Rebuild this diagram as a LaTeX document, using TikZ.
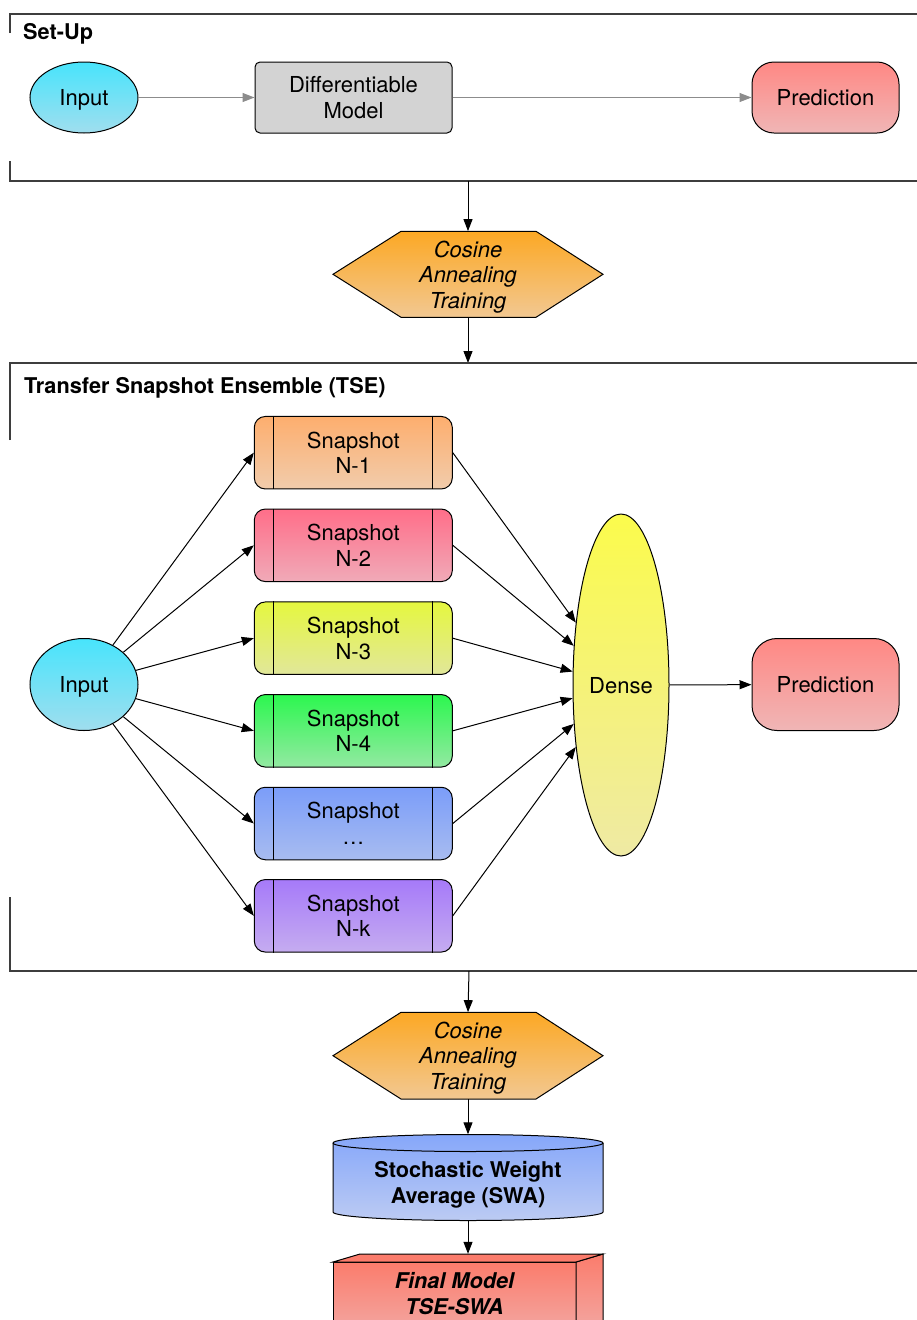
\documentclass[tikz,border=0pt]{standalone}
\usepackage{fontspec}
\setmainfont{TeX Gyre Heros}
\usetikzlibrary{arrows.meta,shapes.geometric}

\newcommand\diagfont{\fontsize{22}{25.5}\selectfont}
\newcommand\titlefont{\fontsize{21.7}{25.5}\selectfont\bfseries}

% fills (top / bottom of each gradient)
\definecolor{framegray}{RGB}{62,62,62}
\definecolor{arrowgray}{RGB}{140,140,140}
\definecolor{inputtop}{RGB}{72,228,252}
\definecolor{inputbot}{RGB}{160,222,238}
\definecolor{modelfill}{RGB}{211,211,211}
\definecolor{predtop}{RGB}{255,136,132}
\definecolor{predbot}{RGB}{240,182,182}
\definecolor{hextop}{RGB}{252,168,36}
\definecolor{hexbot}{RGB}{242,200,146}
\definecolor{nonetop}{RGB}{253,174,110}
\definecolor{nonebot}{RGB}{241,204,172}
\definecolor{ntwotop}{RGB}{255,110,137}
\definecolor{ntwobot}{RGB}{240,170,184}
\definecolor{nthreetop}{RGB}{229,247,63}
\definecolor{nthreebot}{RGB}{225,231,154}
\definecolor{nfourtop}{RGB}{44,247,79}
\definecolor{nfourbot}{RGB}{147,233,162}
\definecolor{ndotstop}{RGB}{123,157,249}
\definecolor{ndotsbot}{RGB}{168,188,240}
\definecolor{nktop}{RGB}{166,122,249}
\definecolor{nkbot}{RGB}{197,172,240}
\definecolor{densetop}{RGB}{251,251,76}
\definecolor{densebot}{RGB}{239,234,164}
\definecolor{swatop}{RGB}{134,167,250}
\definecolor{swabot}{RGB}{188,203,243}
\definecolor{finaltop}{RGB}{251,124,108}
\definecolor{finalbot}{RGB}{242,172,168}

\tikzset{
  frameline/.style={draw=framegray, line width=1.6pt},
  outline/.style={draw=black, line width=1pt},
  flow/.style={draw=black, line width=1pt, -{Triangle[length=12pt,width=9pt]}},
  grayflow/.style={draw=arrowgray, line width=1.1pt, -{Triangle[length=12pt,width=9pt]}},
  oval/.style={ellipse, outline, minimum width=108pt, top color=inputtop, bottom color=inputbot},
  snapbox/.style 2 args={outline, rounded corners=11pt, minimum width=198pt,
    minimum height=72.5pt, top color=#1, bottom color=#2},
  predbox/.style={outline, minimum width=147pt, top color=predtop, bottom color=predbot},
  hexslot/.style={minimum width=270pt, minimum height=87pt, font=\diagfont\itshape},
}

\begin{document}
\begin{tikzpicture}[x=1pt, y=-1pt,
  every node/.style={font=\diagfont, align=center, inner sep=0pt, text depth=0pt}]
\useasboundingbox (0,0) rectangle (917,1320);
\clip (0,0) rectangle (917,1320);

% ---------------- Set-Up lane ----------------
\draw[frameline] (10,33) -- (10,14) -- (917,14);
\draw[frameline] (10,161) -- (10,181) -- (917,181);
\node[anchor=base west, font=\titlefont] (setuptitle) at (23,39) {Set-Up};

\node[oval, minimum height=71pt] (in1) at (84,97.5) {Input};
\node[outline, rounded corners=5pt, minimum width=197pt, minimum height=71pt,
      fill=modelfill] (model) at (353.5,97.5) {Differentiable\\Model};
\node[predbox, rounded corners=22pt, minimum height=71pt] (pred1) at (825.5,97.5) {Prediction};

\draw[grayflow] (in1) -- (model);
\draw[grayflow] (model) -- (pred1);

\coordinate (setupout) at (468,181);

% ---------------- first cosine annealing step ----------------
\shade[outline, top color=hextop, bottom color=hexbot]
  (333,274.3) -- (401,231.3) -- (536,231.3) -- (603,274.3) -- (536,317.3) -- (401,317.3) -- cycle;
\node[hexslot, minimum height=86pt] (hexA) at (468,274.3) {Cosine\\Annealing\\Training};

\coordinate (tsein) at (468,363);
\draw[flow] (setupout) -- (hexA.north);
\draw[flow] (hexA.south) -- (tsein);

% ---------------- TSE lane ----------------
\draw[frameline] (10,440) -- (10,363) -- (917,363);
\draw[frameline] (10,897) -- (10,971) -- (917,971);
\node[anchor=base west, font=\titlefont] (tsetitle) at (24,393)
  {Transfer Snapshot Ensemble (TSE)};

\node[oval, minimum height=92pt] (in2) at (84,684.5) {Input};

\foreach \i/\y/\lab/\ct/\cb in {
    1/452.7/N-1/nonetop/nonebot,
    2/545.3/N-2/ntwotop/ntwobot,
    3/638.2/N-3/nthreetop/nthreebot,
    4/730.8/N-4/nfourtop/nfourbot,
    5/823.5/…/ndotstop/ndotsbot,
    6/915.8/N-k/nktop/nkbot} {
  \node[snapbox={\ct}{\cb}] (s\i) at (353.3,\y) {Snapshot\\\lab};
  \draw[outline] ([xshift=20pt]s\i.north west) -- ([xshift=20pt]s\i.south west);
  \draw[outline] ([xshift=-20pt]s\i.north east) -- ([xshift=-20pt]s\i.south east);
}

\node[ellipse, outline, minimum width=96pt, minimum height=342pt,
      top color=densetop, bottom color=densebot] (dense) at (621,685) {Dense};
\node[predbox, rounded corners=25pt, minimum height=92pt] (pred2) at (825.5,684.5) {Prediction};

\foreach \i in {1,...,6} {
  \draw[flow] (in2) -- (s\i.west);
  \draw[flow] (s\i.east) -- (dense);
}
\draw[flow] (dense) -- (pred2);

\coordinate (tseout) at (469,971);

% ---------------- second cosine annealing step ----------------
\shade[outline, top color=hextop, bottom color=hexbot]
  (333,1055.7) -- (401,1012.3) -- (536,1012.3) -- (603,1055.7) -- (536,1099) -- (401,1099) -- cycle;
\node[hexslot, minimum height=86.7pt] (hexB) at (468,1055.7) {Cosine\\Annealing\\Training};
\draw[flow] (tseout) -- (hexB.north);

% ---------------- stochastic weight average (cylinder) ----------------
\shade[outline, top color=swatop, bottom color=swabot]
  (333,1143) -- (333,1212)
  arc[start angle=180, end angle=360, x radius=135pt, y radius=8.5pt]
  -- (603,1143)
  arc[start angle=0, end angle=180, x radius=135pt, y radius=8.5pt] -- cycle;
\draw[outline] (333,1143) arc[start angle=180, end angle=360, x radius=135pt, y radius=8.5pt];
\node[minimum width=270pt, minimum height=86pt,
      label={[font=\titlefont, yshift=-5pt]center:Stochastic Weight\\Average (SWA)}]
  (swa) at (468,1177.5) {};
\draw[flow] (hexB.south) -- (swa.north);

% ---------------- final model (box) ----------------
\shade[outline, top color=finaltop, bottom color=finalbot]
  (333,1262) rectangle (576,1340);
\shade[outline, top color=finaltop, bottom color=finalbot]
  (576,1262) -- (603,1254) -- (603,1332) -- (576,1340) -- cycle;
\draw[outline, fill=finaltop] (333,1262) -- (360,1254) -- (603,1254) -- (576,1262) -- cycle;
\node[minimum width=270pt, minimum height=70pt,
      label={[font=\titlefont\itshape, xshift=-13.5pt, yshift=-4.5pt]center:Final Model\\TSE-SWA}]
  (final) at (468,1289) {};
\draw[flow] (swa.south) -- (final.north);

\end{tikzpicture}
\end{document}
